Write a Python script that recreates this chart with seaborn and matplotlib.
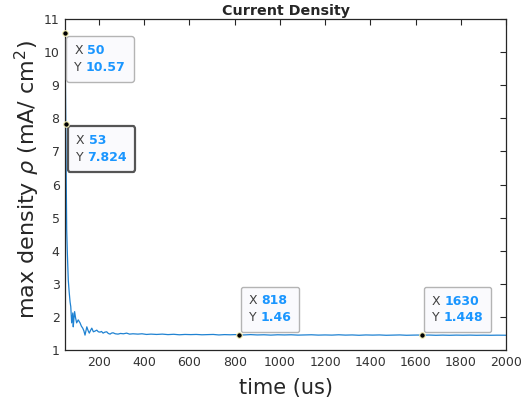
import matplotlib
matplotlib.use("Agg")
import matplotlib.pyplot as plt
import seaborn as sns
import pandas as pd
from matplotlib.offsetbox import TextArea, HPacker, VPacker, AnnotationBbox

# ---- data ----
time_us = [50, 51, 53, 55, 57, 60, 64, 68, 72, 75, 79, 84, 86, 89, 92, 96, 101,
           108, 116, 122, 128, 133, 138, 146, 152, 157, 163, 168, 175, 182, 190,
           197, 204, 211, 218, 226, 234, 241, 249, 255, 262, 272, 284, 295, 308,
           322, 335, 350, 372, 390, 410, 430, 455, 480, 505, 530, 555, 580, 605,
           630, 655, 680, 705, 730, 755, 780, 800, 818, 840, 870, 900, 930, 960,
           990, 1020, 1050, 1080, 1110, 1140, 1170, 1200, 1230, 1260, 1290, 1320,
           1350, 1380, 1410, 1440, 1470, 1500, 1530, 1560, 1590, 1610, 1630, 1660,
           1690, 1720, 1750, 1780, 1810, 1840, 1870, 1900, 1930, 1960, 2000]
density = [10.57, 9.3, 7.824, 6.1, 4.63, 3.9, 3.11, 2.75, 2.45, 2.31, 1.82, 2.12,
           1.70, 1.95, 2.16, 1.98, 1.82, 1.91, 1.82, 1.72, 1.66, 1.58, 1.45, 1.70,
           1.58, 1.51, 1.60, 1.66, 1.55, 1.57, 1.60, 1.55, 1.54, 1.56, 1.51, 1.54,
           1.55, 1.50, 1.48, 1.51, 1.52, 1.49, 1.48, 1.50, 1.49, 1.51, 1.48, 1.49,
           1.48, 1.49, 1.47, 1.48, 1.47, 1.48, 1.465, 1.475, 1.46, 1.47, 1.465,
           1.47, 1.46, 1.465, 1.47, 1.455, 1.465, 1.46, 1.465, 1.46, 1.455, 1.465,
           1.455, 1.46, 1.45, 1.46, 1.455, 1.46, 1.45, 1.455, 1.46, 1.45, 1.455,
           1.45, 1.46, 1.45, 1.455, 1.445, 1.455, 1.45, 1.455, 1.445, 1.45, 1.455,
           1.445, 1.45, 1.452, 1.448, 1.452, 1.445, 1.45, 1.445, 1.45, 1.447,
           1.45, 1.445, 1.448, 1.445, 1.448, 1.446]

tip_x = [50, 53, 818, 1630]
tip_y = [10.57, 7.824, 1.46, 1.448]
tip_labels_x = ["50", "53", "818", "1630"]
tip_labels_y = ["10.57", "7.824", "1.46", "1.448"]

x_ticks = [200, 400, 600, 800, 1000, 1200, 1400, 1600, 1800, 2000]
y_ticks = [1, 2, 3, 4, 5, 6, 7, 8, 9, 10, 11]

df = pd.DataFrame({"time": time_us, "density": density})

sns.set_theme(style="white")
plt.rcParams["font.family"] = ["DejaVu Sans"]

fig = plt.figure(figsize=(5.23, 4.05), dpi=100)
ax = fig.add_axes([0.1245, 0.1358, 0.843, 0.8172])

sns.lineplot(data=df, x="time", y="density", ax=ax, color="#1f82d2",
             linewidth=0.9, estimator=None, sort=False)

ax.set_xlim(50, 2000)
ax.set_ylim(1, 11)
ax.set_xticks(x_ticks)
ax.set_yticks(y_ticks)
ax.tick_params(axis="both", direction="in", length=4, width=0.8,
               colors="#262626", labelsize=9, top=True, right=True,
               labeltop=False, labelright=False, pad=4)
ax.tick_params(axis="both", labelcolor="#333333")
for sp in ax.spines.values():
    sp.set_visible(True)
    sp.set_color("#262626")
    sp.set_linewidth(0.9)

ax.set_title("Current Density", fontsize=10.3, fontweight="bold", pad=3)
ax.set_xlabel("time (us)", fontsize=15, color="#262626", labelpad=6.5)
ax.set_ylabel(r"max density $\rho$ (mA/ cm$^2$)", fontsize=16,
              color="#262626", labelpad=1.5)
ax.yaxis.label.set_y(0.515)

# data tip markers
ax.plot(tip_x, tip_y, linestyle="none", marker="o", markersize=4,
        markerfacecolor="black", markeredgecolor="#f5f0b8",
        markeredgewidth=0.8, zorder=7, clip_on=False)

blue = "#1a96ff"
gray = "#404040"
specs = [
    ((0, 1), (5.8, -7.2), "#b4b4b4", 1.0),
    ((0, 1), (6.5, -6.5), "#555555", 1.6),
    ((0, 0), (6.5, 7.0), "#b4b4b4", 1.0),
    ((0, 0), (6.2, 7.0), "#b4b4b4", 1.0),
]
for i in range(len(tip_x)):
    rowx = HPacker(children=[TextArea("X", textprops=dict(color=gray, size=9)),
                             TextArea(tip_labels_x[i], textprops=dict(color=blue, size=9, weight="bold"))],
                   align="baseline", pad=0, sep=3)
    rowy = HPacker(children=[TextArea("Y", textprops=dict(color=gray, size=9)),
                             TextArea(tip_labels_y[i], textprops=dict(color=blue, size=9, weight="bold"))],
                   align="baseline", pad=0, sep=3)
    box = VPacker(children=[rowx, rowy], align="left", pad=0.7, sep=2.6)
    align, off, ec, lw = specs[i]
    ab = AnnotationBbox(box, (tip_x[i], tip_y[i]), xybox=off, xycoords="data",
                        boxcoords="offset points", box_alignment=align,
                        pad=0.45, frameon=True,
                        bboxprops=dict(boxstyle="round,pad=0.45,rounding_size=0.15",
                                       facecolor="#fafafd", edgecolor=ec, linewidth=lw))
    ab.set_zorder(6)
    ax.add_artist(ab)

fig.savefig("out.png", dpi=100)
